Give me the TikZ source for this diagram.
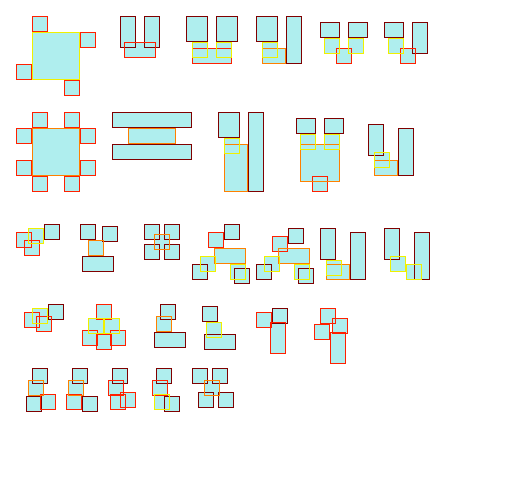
\documentclass[tikz,border=0pt]{standalone}
\usepackage{tikz}

\definecolor{cellfill}{HTML}{AFEEEE}
\definecolor{cdark}{HTML}{800000}
\definecolor{cred}{HTML}{FF2000}
\definecolor{corange}{HTML}{FF8000}
\definecolor{cyellow}{HTML}{F0F000}

\tikzset{
  cell/.style={fill=cellfill},
  darkedge/.style={draw=cdark, line width=1pt},
  rededge/.style={draw=cred, line width=1pt},
  orangeedge/.style={draw=corange, line width=1pt},
  yellowedge/.style={draw=cyellow, line width=1pt}
}

% boxes as x1/y1/x2/y2 in pixels, from the top left corner
\def\darkboxes{120/16/135/47, 144/16/159/47, 186/16/207/41, 216/16/237/41,
  256/16/277/41, 286/16/301/63, 320/22/339/37, 348/22/367/37,
  384/22/403/37, 412/22/427/53,
  112/112/191/127, 112/144/191/159, 218/112/239/137, 248/112/263/191,
  296/118/315/133, 324/118/343/133, 368/124/383/155, 398/128/413/175,
  44/224/59/239, 80/224/95/239, 102/226/117/241, 82/256/113/271,
  144/224/159/239, 164/224/179/239, 144/244/159/259, 164/244/179/259,
  224/224/239/239, 192/264/207/279, 234/268/249/283,
  288/228/303/243, 256/264/271/279, 298/268/313/283,
  320/228/335/259, 350/232/365/279, 384/228/399/259, 414/232/429/279,
  48/304/63/319, 160/304/175/319, 154/332/185/347,
  202/306/217/321, 204/334/235/349, 272/308/287/323,
  32/368/47/383, 26/396/41/411, 72/368/87/383, 82/396/97/411,
  112/368/127/383, 156/368/171/383, 164/396/179/411,
  192/368/207/383, 212/368/227/383, 198/392/213/407, 218/392/233/407}
\def\redboxes{32/16/47/31, 80/32/95/47, 16/64/31/79, 64/80/79/95,
  124/42/155/57, 192/48/231/63, 336/48/351/63, 400/48/415/63,
  32/112/47/127, 64/112/79/127, 16/128/31/143, 80/128/95/143,
  16/160/31/175, 80/160/95/175, 32/176/47/191, 64/176/79/191,
  312/176/327/191,
  16/232/31/247, 24/240/39/255, 208/232/223/247, 272/236/287/251,
  24/312/39/327, 36/316/51/331,
  96/304/111/319, 82/330/97/345, 110/330/125/345, 96/334/111/349,
  256/312/271/327, 270/322/285/353,
  320/308/335/323, 332/318/347/333, 314/324/329/339, 330/332/345/363,
  40/394/55/409, 66/394/81/409, 108/380/123/395, 110/394/125/409,
  120/392/135/407, 152/380/167/395}
\def\orangeboxes{262/48/285/63,
  32/128/79/175, 128/128/175/143, 224/144/247/191, 300/144/339/181,
  374/160/397/175,
  88/240/103/255, 154/234/169/249, 214/248/245/263, 278/248/309/263,
  326/264/349/279,
  156/316/171/331,
  28/380/43/395, 68/380/83/395, 204/380/219/395}
\def\yellowboxes{32/32/79/79, 192/42/207/57, 216/42/231/57, 262/42/277/57,
  324/38/339/53, 348/38/363/53, 388/38/403/53,
  224/138/239/153, 300/134/315/149, 324/134/339/149, 374/152/389/167,
  28/228/43/243, 200/256/215/271, 230/264/245/279, 264/256/279/271,
  294/264/309/279, 326/260/341/275, 390/256/405/271, 406/264/421/279,
  32/308/47/323, 88/318/103/333, 104/318/119/333, 206/322/221/337,
  154/394/169/409}

\newcommand{\fillboxes}[1]{%
  \foreach \xa/\ya/\xb/\yb in #1 {\path[cell] (\xa,\ya) rectangle (\xb,\yb);}}
\newcommand{\edgeboxes}[2]{%
  \foreach \xa/\ya/\xb/\yb in #1 {\path[#2] (\xa,\ya) rectangle (\xb,\yb);}}

\begin{document}
\begin{tikzpicture}[x=1pt, y=-1pt]
    \useasboundingbox (0,0) rectangle (512,480);
    \begin{scope}[shift={(0.5,0.5)}]
        % fills first
        \fillboxes{\darkboxes}
        \fillboxes{\redboxes}
        \fillboxes{\orangeboxes}
        \fillboxes{\yellowboxes}
        % then the outlines
        \edgeboxes{\darkboxes}{darkedge}
        \edgeboxes{\redboxes}{rededge}
        \edgeboxes{\orangeboxes}{orangeedge}
        \edgeboxes{\yellowboxes}{yellowedge}
    \end{scope}
\end{tikzpicture}
\end{document}
